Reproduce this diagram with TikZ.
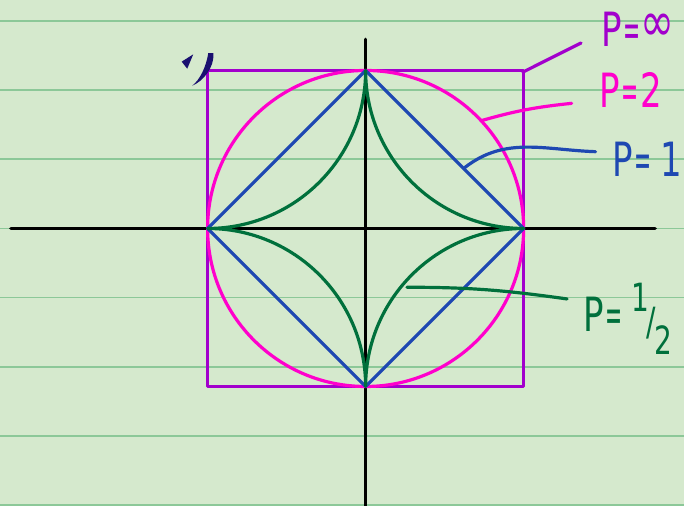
\documentclass[tikz,border=0pt]{standalone}
\usepackage{fontspec}
\usepackage{graphicx}
\newfontfamily\handfont{DejaVu Sans}
\newcommand{\hw}[1]{\scalebox{0.72}[1]{#1}}
\newcommand{\heq}{\kern0.05em\scalebox{0.6}[1]{=}\kern0.05em}

\definecolor{paper}{RGB}{213,233,205}
\definecolor{ruling}{RGB}{140,200,152}
\definecolor{normInf}{RGB}{162,0,204}
\definecolor{normTwo}{RGB}{255,0,204}
\definecolor{normOne}{RGB}{30,72,178}
\definecolor{normHalf}{RGB}{0,112,60}
\definecolor{ink}{RGB}{26,16,112}

\begin{document}
\begin{tikzpicture}[x=2cm, y=2cm, line cap=round, line join=round,
    curve/.style={line width=1.15pt},
    lbl/.style={font=\handfont\fontsize{17pt}{17pt}\selectfont, inner sep=0pt, anchor=base west}]
    % Ruled notebook page.
    \fill[paper] (-2.314,-1.756) rectangle (2.015,1.446);
    \useasboundingbox (-2.314,-1.756) rectangle (2.015,1.446);
    \foreach \k in {-4,...,3}
        \draw[ruling, line width=0.7pt] (-2.314,0.437*\k) -- (2.015,0.437*\k);

    \draw[line width=1.3pt] (-2.245,0) -- (1.832,0);
    \draw[line width=1.3pt] (0,-1.8) -- (0,1.197);

    % Unit balls for p = infinity, 2, 1, 1/2.
    \draw[curve, normInf] (-1,-1) rectangle (1,1);
    \draw[curve, normTwo] (0,0) circle (1);
    \draw[curve, normOne] (1,0) -- (0,1) -- (-1,0) -- (0,-1) -- cycle;
    \draw[curve, normHalf]
    (1,0)
    arc[start angle=270,end angle=180,radius=1]
    arc[start angle=0,end angle=-90,radius=1]
    arc[start angle=90,end angle=0,radius=1]
    arc[start angle=180,end angle=90,radius=1]
    -- cycle;

    % Mark in the corner.
    \fill[ink] (-1.164,1.056) -- (-1.091,1.102) -- (-1.129,1.011) -- cycle;
    \fill[ink] (-0.964,1.109)
    .. controls (-0.955,1.02) and (-1.03,0.93) .. (-1.097,0.904)
    .. controls (-1.05,0.94) and (-1.01,1.02) .. (-0.996,1.109) -- cycle;

    \node[lbl, text=normInf] (pinf) at (1.49,1.15)
        {\hw{P\heq\kern-0.05em\raisebox{2pt}{\scalebox{1.2}{∞}}}};
    \node[lbl, text=normTwo] (ptwo) at (1.476,0.765) {\hw{P\heq 2}};
    \node[lbl, text=normOne] (pone) at (1.56,0.33) {\hw{P\heq\kern0.2em 1}};
    \node[lbl, text=normHalf] (phalf) at (1.376,-0.65)
        {\hw{P\heq\kern0.2em\fontsize{14pt}{14pt}\selectfont
        \raisebox{0.5em}{1}\kern-0.1em\raisebox{-0.1em}{/}\kern-0.05em\raisebox{-0.6em}{2}}};

    % Leaders.
    \coordinate (onInf) at (0.996,0.99);
    \coordinate (toInf) at (1.363,1.174);
    \coordinate (onTwo) at (0.731,0.682);
    \coordinate (toTwo) at (1.304,0.792);
    \coordinate (onOne) at (0.627,0.385);
    \coordinate (toOne) at (1.455,0.486);
    \coordinate (onHalf) at (0.262,-0.372);
    \coordinate (toHalf) at (1.275,-0.446);
    \draw[curve, normInf] (onInf) -- (toInf);
    \draw[curve, normTwo] (onTwo) to[out=16,in=186] (toTwo);
    \draw[curve, normOne] (onOne) to[out=38,in=178] (toOne);
    \draw[curve, normHalf] (onHalf) to[out=0,in=172] (toHalf);
\end{tikzpicture}
\end{document}
